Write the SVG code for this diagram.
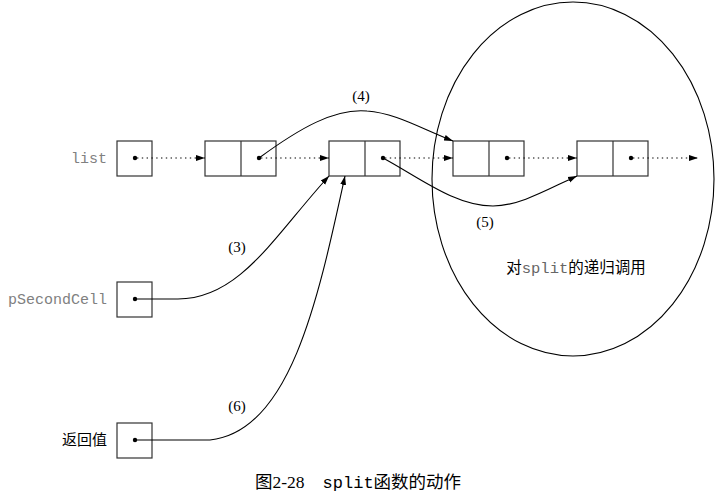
<svg xmlns="http://www.w3.org/2000/svg" width="716" height="500" viewBox="0 0 716 500">
<defs>
<style>
.box{fill:none;stroke:#333;stroke-width:1.2}
.dot{fill:#000}
.dotted{fill:none;stroke:#000;stroke-width:1.1;stroke-dasharray:1.4,3.4}
.curve{fill:none;stroke:#000;stroke-width:1.1}
.mono{font-family:"Liberation Mono","DejaVu Sans Mono",monospace;font-size:15px;fill:#808080}
.cjk{font-family:"Liberation Serif","Noto Sans CJK SC",serif;font-size:15px;fill:#000}
.lbl{font-family:"Liberation Serif","Times New Roman",serif;font-size:15px;fill:#000}
</style>
<marker id="ah" markerWidth="10" markerHeight="8" refX="9" refY="4" orient="auto" markerUnits="userSpaceOnUse">
<path d="M0,1 L9,4 L0,7 Z" fill="#000"/>
</marker>
</defs>
<rect width="716" height="500" fill="#fff"/>

<ellipse cx="573" cy="179" rx="141" ry="177" fill="none" stroke="#000" stroke-width="1.1"/>
<text x="576" y="273" text-anchor="middle" class="cjk" style="font-size:15.5px">对<tspan class="mono" style="fill:#666;font-size:15.5px">split</tspan>的递归调用</text>

<g id="list">
<text x="107" y="163" text-anchor="end" class="mono">list</text>
<rect class="box" x="117" y="141" width="35" height="35"/>
<circle class="dot" cx="135" cy="158" r="2.2"/>
</g>
<g id="cell1">
<rect class="box" x="205" y="141" width="71" height="35"/>
<line class="box" x1="241" y1="141" x2="241" y2="176"/>
<circle class="dot" cx="259" cy="158" r="2.2"/>
</g>
<g id="cell2">
<rect class="box" x="329" y="141" width="71" height="35"/>
<line class="box" x1="365" y1="141" x2="365" y2="176"/>
<circle class="dot" cx="383" cy="158" r="2.2"/>
</g>
<g id="cell3">
<rect class="box" x="453" y="141" width="71" height="35"/>
<line class="box" x1="489" y1="141" x2="489" y2="176"/>
<circle class="dot" cx="507" cy="158" r="2.2"/>
</g>
<g id="cell4">
<rect class="box" x="577" y="141" width="71" height="35"/>
<line class="box" x1="613" y1="141" x2="613" y2="176"/>
<circle class="dot" cx="631" cy="158" r="2.2"/>
</g>
<g id="pSecondCell">
<text x="107" y="304" text-anchor="end" class="mono">pSecondCell</text>
<rect class="box" x="117" y="282" width="35" height="35"/>
<circle class="dot" cx="135" cy="299" r="2.2"/>
</g>
<g id="retval">
<text x="107" y="445" text-anchor="end" class="cjk">返回值</text>
<rect class="box" x="117" y="423" width="35" height="35"/>
<circle class="dot" cx="135" cy="440" r="2.2"/>
</g>

<g id="connectors">
<line class="dotted" x1="137" y1="158" x2="205" y2="158" marker-end="url(#ah)"/>
<line class="dotted" x1="261" y1="158" x2="329" y2="158" marker-end="url(#ah)"/>
<line class="dotted" x1="385" y1="158" x2="453" y2="158" marker-end="url(#ah)"/>
<line class="dotted" x1="509" y1="158" x2="577" y2="158" marker-end="url(#ah)"/>
<line class="dotted" x1="633" y1="158" x2="698" y2="158" marker-end="url(#ah)"/>
<path class="curve" d="M259,158 C300,128 335,108 367,111 C395,113 420,128 453,141" marker-end="url(#ah)"/>
<path class="curve" d="M383,158 C420,178 455,206 493,206 C520,206 550,188 577,176" marker-end="url(#ah)"/>
<path class="curve" d="M135,299 H178 C240,299 275,235 329,176" marker-end="url(#ah)"/>
<path class="curve" d="M135,440 H210 C290,432 318,300 345,176" marker-end="url(#ah)"/>
</g>

<text x="361" y="101" text-anchor="middle" class="lbl">(4)</text>
<text x="485" y="227" text-anchor="middle" class="lbl">(5)</text>
<text x="237" y="252" text-anchor="middle" class="lbl">(3)</text>
<text x="237" y="411" text-anchor="middle" class="lbl">(6)</text>

<text x="255" y="488" class="cjk" style="font-size:17.5px">图2-28<tspan dx="18" class="mono" style="fill:#000;font-size:17px">split</tspan>函数的动作</text>
</svg>
